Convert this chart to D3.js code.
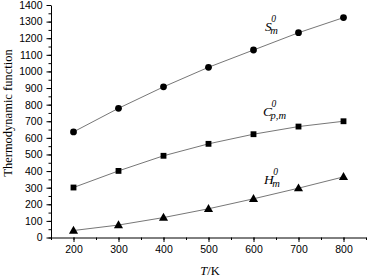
<!DOCTYPE html>
<html><head><meta charset="utf-8">
<script src="https://cdn.jsdelivr.net/npm/d3@7"></script>
<style>body{margin:0;background:#fff}svg{display:block}</style>
</head><body>
<svg id="c" width="368" height="278"></svg>
<script>
const temps = [200, 300, 400, 500, 600, 700, 800];
const entropy = [636, 778, 907, 1025, 1129, 1233, 1324];
const heatCap = [301, 401, 492, 564, 622, 668, 700];
const enthalpy = [42, 75, 120, 173, 233, 297, 365];
const xTicks = [200, 300, 400, 500, 600, 700, 800];
const yTicks = d3.range(0, 1401, 100);

const svg = d3.select("#c");
const x = d3.scaleLinear().domain([150, 850]).range([51, 366]);
const y = d3.scaleLinear().domain([0, 1400]).range([237.5, 5]);

// minor ticks
svg.append("g").attr("transform", "translate(0,237.5)")
  .call(d3.axisBottom(x).tickValues(d3.range(150, 851, 50)).tickSize(2.5).tickFormat(""))
  .call(g => g.select(".domain").remove());
svg.append("g").attr("transform", "translate(51,0)")
  .call(d3.axisLeft(y).tickValues(d3.range(0, 1401, 50)).tickSize(2.5).tickFormat(""))
  .call(g => g.select(".domain").remove());

const xa = svg.append("g").attr("transform", "translate(0,237.5)")
  .call(d3.axisBottom(x).tickValues(xTicks).tickFormat(d3.format("d")).tickSize(4.5).tickSizeOuter(0).tickPadding(4));
const ya = svg.append("g").attr("transform", "translate(51,0)")
  .call(d3.axisLeft(y).tickValues(yTicks).tickFormat(d3.format("d")).tickSize(4.5).tickSizeOuter(0).tickPadding(4));
[xa, ya].forEach(g => {
  g.selectAll("text").attr("font-family", "Liberation Sans, Arial, sans-serif").attr("font-size", 10.5).attr("fill", "#000");
  g.selectAll("line,path").attr("stroke", "#000").attr("stroke-width", 1);
});
svg.selectAll("g .tick line").attr("stroke", "#000");

const series = [
  {vals: entropy, shape: "circle"},
  {vals: heatCap, shape: "square"},
  {vals: enthalpy, shape: "triangle"}
];
const line = d3.line().x(d => x(d[0])).y(d => y(d[1]));
series.forEach(s => {
  const pts = temps.map((t, i) => [t, s.vals[i]]);
  svg.append("path").datum(pts).attr("d", line)
    .attr("fill", "none").attr("stroke", "#777").attr("stroke-width", 1);
  let sym;
  if (s.shape === "circle") sym = d3.symbol(d3.symbolCircle, 36);
  else if (s.shape === "square") sym = d3.symbol(d3.symbolSquare, 34);
  else sym = d3.symbol(d3.symbolTriangle, 36);
  svg.append("g").selectAll("path").data(pts).join("path")
    .attr("d", sym)
    .attr("transform", d => `translate(${x(d[0])},${y(d[1]) + (s.shape === "triangle" ? 0.5 : 0)})`)
    .attr("fill", "#000");
});

// labels
const serif = "Liberation Serif, Times New Roman, serif";
function lab(main, sub, xx, yy) {
  const g = svg.append("g").attr("font-family", serif).attr("font-style", "italic").attr("fill", "#000");
  const t = g.append("text").attr("x", xx).attr("y", yy).attr("font-size", 13.5).text(main);
  const w = t.node().getComputedTextLength();
  g.append("text").attr("x", xx + w - 0.5).attr("y", yy - 9).attr("font-size", 9.5).text("0");
  g.append("text").attr("x", xx + w - 1.5).attr("y", yy + 3).attr("font-size", 10.5).text(sub);
}
lab("S", "m", 265, 31);
lab("C", "p,m", 263, 116);
lab("H", "m", 264, 184);

svg.append("text").attr("transform", "translate(12,113) rotate(-90)")
  .attr("text-anchor", "middle").attr("font-family", serif).attr("font-size", 12.5)
  .text("Thermodynamic function");
const tk = svg.append("text").attr("x", 210).attr("y", 275).attr("text-anchor", "middle")
  .attr("font-family", serif).attr("font-size", 12.5);
tk.append("tspan").attr("font-style", "italic").text("T");
tk.append("tspan").text("/K");
</script>
</body></html>
